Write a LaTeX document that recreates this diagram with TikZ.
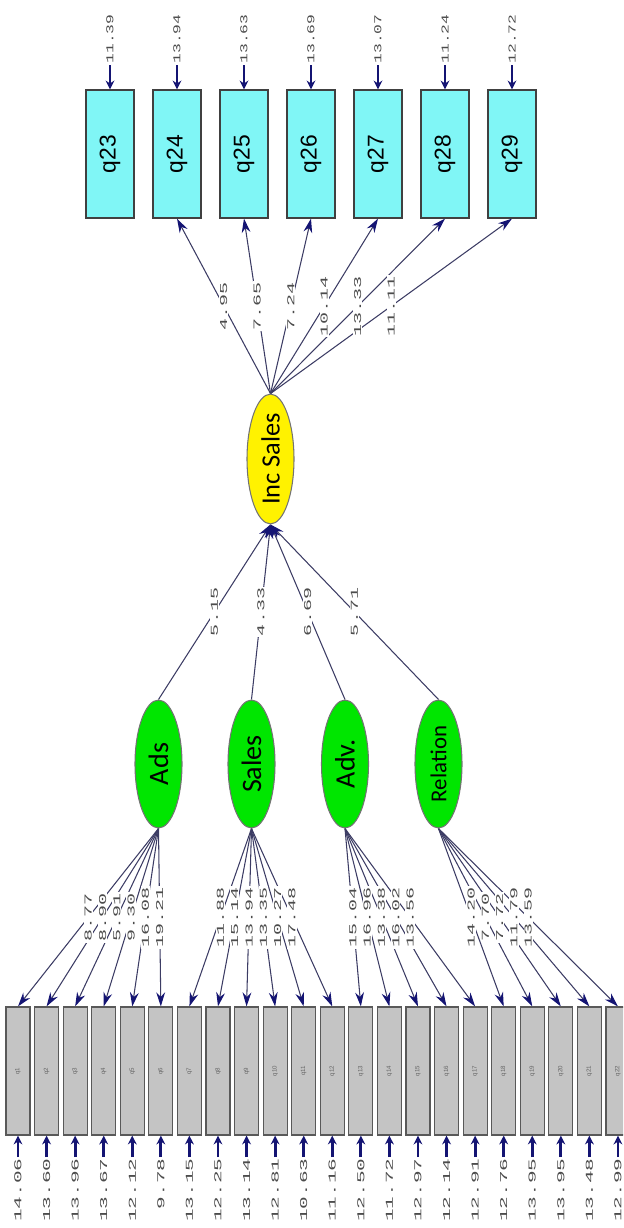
\documentclass[tikz,border=0pt]{standalone}
\usepackage{fontspec}
\setmainfont{Liberation Sans}
\newfontfamily\numfont{Liberation Mono}
\newfontfamily\latfont{Carlito}
\usepackage{graphicx}
\usepackage{xcolor}
\usetikzlibrary{backgrounds, arrows.meta, shapes.geometric}

\definecolor{headblue}{RGB}{20,20,115}
\definecolor{linecol}{RGB}{60,60,100}
\definecolor{latgreen}{RGB}{0,230,0}
\definecolor{latyellow}{RGB}{255,242,0}
\definecolor{obscyan}{RGB}{128,246,246}
\definecolor{obsgray}{RGB}{196,196,196}

\newcommand{\vtext}[1]{\rotatebox{90}{#1}}
\newcommand{\vnum}[2][1.9]{\rotatebox{90}{\scalebox{#1}[1]{#2}}}

\tikzset{
  latent/.style={ellipse, draw=black!55, line width=0.6pt, fill=latgreen, minimum width=0.94cm, minimum height=2.56cm, inner sep=0pt},
  indq/.style={rectangle, draw=black!75, line width=0.7pt, fill=obscyan, minimum width=0.96cm, minimum height=2.56cm, inner sep=0pt, font=\fontsize{13}{13}\selectfont},
  indg/.style={rectangle, draw=black!65, line width=0.7pt, fill=obsgray, minimum width=0.48cm, minimum height=2.56cm, inner sep=0pt, font=\fontsize{3.5}{4}\selectfont, text=black!60},
  numlab/.style={inner sep=0.6pt, font=\numfont\fontsize{6}{6}\selectfont, text=black!70},
  loadlab/.style={numlab, fill=white},
  load/.style={draw=linecol, line width=0.6pt, -{Stealth[length=8pt, width=5pt, color=headblue]}},
  err/.style={draw=headblue, line width=1.6pt, -{Stealth[length=5pt, width=5pt]}}
}

\begin{document}
\begin{tikzpicture}[x=0.02cm, y=-0.02cm]
    \useasboundingbox (0,0) rectangle (623,1228);
    \clip (0,0) rectangle (623,1228);

    % latent variables
    \node[latent, fill=latyellow] (inc) at (270.5,459) {\vtext{\latfont\fontsize{15}{15}\selectfont Inc Sales}};
    \node[latent] (ads) at (158.5,764) {\vtext{\latfont\fontsize{16}{16}\selectfont Ads}};
    \node[latent] (sales) at (251.5,764) {\vtext{\latfont\fontsize{16}{16}\selectfont Sales}};
    \node[latent] (adv) at (345,764) {\vtext{\latfont\fontsize{16}{16}\selectfont Adv.}};
    \node[latent] (rel) at (438.5,764) {\vtext{\latfont\fontsize{13}{13}\selectfont Relation}};

    % indicators of Inc Sales
    \foreach \i/\v [evaluate=\i as \xx using 110+67*(\i-23)] in {23/11.39, 24/13.94, 25/13.63, 26/13.69, 27/13.07, 28/11.24, 29/12.72} {
        \node[indq] (q\i) at (\xx,154) {\vtext{q\i}};
        \node[numlab, anchor=south] (e\i) at (\xx,65) {\vnum[1.55]{\v}};
        \draw[err] (e\i) -- (q\i);
    }

    % indicators of the four factors
    \foreach \i/\v [evaluate=\i as \xx using 18+28.57*(\i-1)] in {1/14.06, 2/13.60, 3/13.96, 4/13.67, 5/12.12, 6/9.78, 7/13.15, 8/12.25, 9/13.14, 10/12.81, 11/10.63, 12/11.16, 13/12.50, 14/11.72, 15/12.97, 16/12.14, 17/12.91, 18/12.76, 19/13.95, 20/13.95, 21/13.48, 22/12.99} {
        \node[indg] (q\i) at (\xx,1071) {\vtext{q\i}};
        \node[numlab, anchor=north] (e\i) at (\xx,1157) {\vnum[2]{\v}};
        \draw[err] (e\i) -- (q\i);
    }

    % loadings
    \foreach \f/\i/\v in {ads/1/8.77, ads/2/8.90, ads/3/5.91, ads/4/9.30, ads/5/16.08, ads/6/19.21, sales/7/11.88, sales/8/15.14, sales/9/13.94, sales/10/13.35, sales/11/10.27, sales/12/17.48, adv/13/15.04, adv/14/16.96, adv/15/13.38, adv/16/16.02, adv/17/13.56, rel/18/14.20, rel/19/7.70, rel/20/7.72, rel/21/11.79, rel/22/13.59} {
        \begin{pgfonlayer}{background}
            \draw[load] (\f.south) -- coordinate[midway] (m\i) (q\i.north);
        \end{pgfonlayer}
        \node[loadlab] (l\i) at (m\i) {\vnum{\v}};
    }
    \foreach \i/\v in {24/4.95, 25/7.65, 26/7.24, 27/10.14, 28/13.33, 29/11.11} {
        \begin{pgfonlayer}{background}
            \draw[load] (inc.north) -- coordinate[midway] (m\i) (q\i.south);
        \end{pgfonlayer}
        \node[loadlab] (l\i) at (m\i) {\vnum{\v}};
    }

    % paths to Inc Sales
    \foreach \f/\v in {ads/5.15, sales/4.33, adv/6.69, rel/5.71} {
        \begin{pgfonlayer}{background}
            \draw[load] (\f.north) -- coordinate[midway] (p\f) (inc.south);
        \end{pgfonlayer}
        \node[loadlab] (g\f) at (p\f) {\vnum{\v}};
    }
\end{tikzpicture}
\end{document}
